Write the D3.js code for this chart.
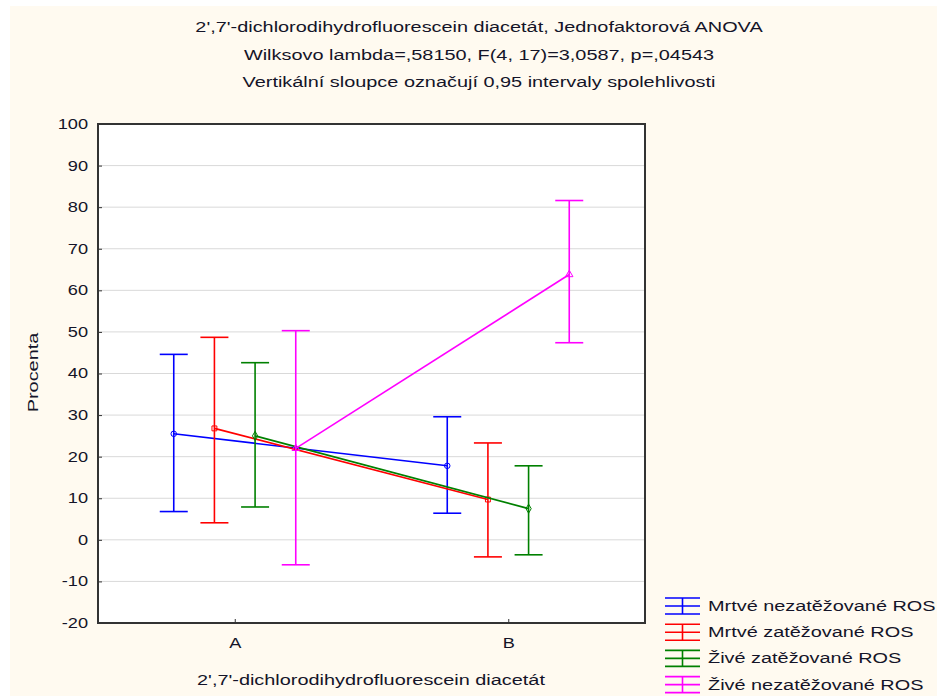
<!DOCTYPE html>
<html>
<head>
<meta charset="utf-8">
<script src="https://cdn.jsdelivr.net/npm/d3@7"></script>
<style>
  body { margin: 0; background: #fff; }
  text { font-family: "Liberation Sans", Arial, sans-serif; fill: #141428; }
</style>
</head>
<body>
<svg id="chart" width="937" height="696"></svg>
<script>
const categories = ['A', 'B'];
const seriesNames = ['Mrtvé nezatěžované ROS', 'Mrtvé zatěžované ROS', 'Živé zatěžované ROS', 'Živé nezatěžované ROS'];
const seriesColors = ['#0000ff', '#ff0000', '#008000', '#ff00ff'];
// means per series, [A, B]
const means = [[25.5, 17.8], [26.8, 9.7], [25.0, 7.5], [22.0, 63.8]];
const upper = [[44.6, 29.6], [48.7, 23.3], [42.6, 17.8], [50.3, 81.6]];
const lower = [[6.8, 6.4], [4.1, -4.1], [7.9, -3.6], [-6.0, 47.4]];
const yTicks = [-20, -10, 0, 10, 20, 30, 40, 50, 60, 70, 80, 90, 100];
const titleLines = [
  "2',7'-dichlorodihydrofluorescein diacetát, Jednofaktorová ANOVA",
  "Wilksovo lambda=,58150, F(4, 17)=3,0587, p=,04543",
  "Vertikální sloupce označují 0,95 intervaly spolehlivosti"
];

const svg = d3.select('#chart');
const plotLeft = 98, plotRight = 645, plotTop = 124, plotBottom = 623;
const stretch = 1.42; // the source text is drawn wide

// cream background
svg.append('rect').attr('x', 10).attr('y', 6).attr('width', 927).attr('height', 690).attr('fill', '#fffaf0');
svg.append('rect').attr('x', plotLeft).attr('y', plotTop).attr('width', plotRight - plotLeft).attr('height', plotBottom - plotTop).attr('fill', '#fff');

const x = d3.scalePoint().domain(categories).range([plotLeft, plotRight]).padding(0.5);
const y = d3.scaleLinear().domain([-20, 100]).range([plotBottom, plotTop]);
const offset = d3.scalePoint().domain(d3.range(seriesNames.length)).range([-61, 61]);

// gridlines
svg.append('g').selectAll('line').data(yTicks.filter(t => t > -20 && t < 100)).join('line')
  .attr('x1', plotLeft).attr('x2', plotRight).attr('y1', d => y(d)).attr('y2', d => y(d))
  .attr('stroke', '#d9d9d9').attr('stroke-width', 1);

// y axis
const yAxis = svg.append('g').attr('transform', `translate(${plotLeft},0)`)
  .call(d3.axisLeft(y).tickValues(yTicks).tickSize(-4).tickFormat(d => d));
yAxis.select('.domain').remove();
yAxis.selectAll('line').attr('stroke', '#333');
yAxis.selectAll('text').style('font-size', '14px').attr('fill', '#141428')
  .attr('x', -10 / 1.3).attr('transform', 'scale(1.3,1)');

// x axis
const xAxis = svg.append('g').attr('transform', `translate(0,${plotBottom})`)
  .call(d3.axisBottom(x).tickSize(-4).tickPadding(15));
xAxis.select('.domain').remove();
xAxis.selectAll('line').attr('stroke', '#333');
xAxis.selectAll('text').style('font-size', '14px').attr('fill', '#141428')
  .attr('transform', 'scale(1.3,1)');

// series
const symbols = [d3.symbolCircle, d3.symbolSquare, d3.symbolDiamond, d3.symbolTriangle];
seriesNames.forEach((name, s) => {
  const g = svg.append('g');
  const col = seriesColors[s];
  const px = (i) => x(categories[i]) + offset(s);
  g.append('path')
    .attr('d', d3.line().x((d, i) => px(i)).y(d => y(d))(means[s]))
    .attr('fill', 'none').attr('stroke', col).attr('stroke-width', 1.6);
  categories.forEach((c, i) => {
    const cx = px(i);
    g.append('line').attr('x1', cx).attr('x2', cx).attr('y1', y(upper[s][i])).attr('y2', y(lower[s][i]))
      .attr('stroke', col).attr('stroke-width', 1.6);
    [upper[s][i], lower[s][i]].forEach(v => {
      g.append('line').attr('x1', cx - 14).attr('x2', cx + 14).attr('y1', y(v)).attr('y2', y(v))
        .attr('stroke', col).attr('stroke-width', 1.6);
    });
    g.append('path').attr('d', d3.symbol().type(symbols[s]).size(24)())
      .attr('transform', `translate(${cx},${y(means[s][i])})`)
      .attr('fill', 'none').attr('stroke', col).attr('stroke-width', 1);
  });
});

// frame
svg.append('rect').attr('x', plotLeft).attr('y', plotTop).attr('width', plotRight - plotLeft).attr('height', plotBottom - plotTop)
  .attr('fill', 'none').attr('stroke', '#333').attr('stroke-width', 2);

// wide text helper
function wideText(px, py, str, anchor, rot) {
  return svg.append('text')
    .attr('transform', `translate(${px},${py})${rot ? ' rotate(' + rot + ')' : ''} scale(${stretch},1)`)
    .attr('text-anchor', anchor).style('font-size', '14px').text(str);
}

// titles
titleLines.forEach((t, i) => wideText(479, 32 + i * 27.5, t, 'middle'));
wideText(38, (plotTop + plotBottom) / 2 - 1, 'Procenta', 'middle', -90);
wideText(371, 685, "2',7'-dichlorodihydrofluorescein diacetát", 'middle');

// legend
seriesNames.forEach((name, s) => {
  const ly = 606 + s * 26.2;
  const col = seriesColors[s];
  const lg = svg.append('g').attr('transform', `translate(0,${ly})`);
  [-8, 0, 8].forEach(dy => {
    lg.append('line').attr('x1', 665).attr('x2', 700).attr('y1', dy).attr('y2', dy)
      .attr('stroke', col).attr('stroke-width', 1.6);
  });
  lg.append('line').attr('x1', 682.5).attr('x2', 682.5).attr('y1', -8).attr('y2', 8)
    .attr('stroke', col).attr('stroke-width', 1.6);
  wideText(708, ly + 5, name, 'start');
});
</script>
</body>
</html>
